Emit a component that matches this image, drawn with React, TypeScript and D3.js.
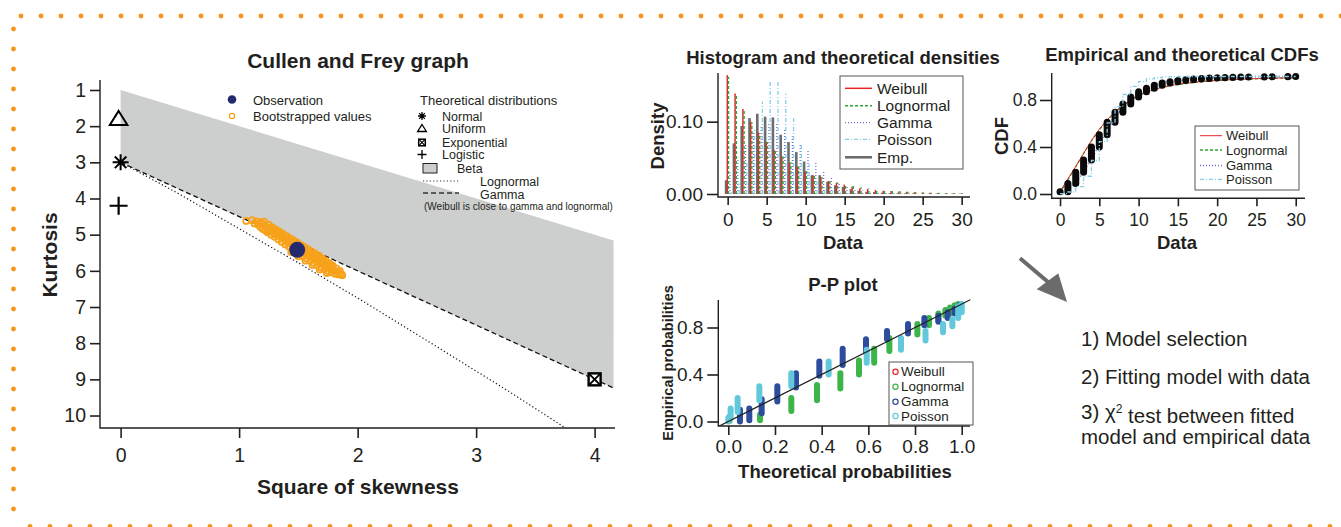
import * as d3 from "d3";
import React, { useEffect, useRef } from "react";

const W = 1341;
const H = 527;
const INK = "#231f20";
const ORANGE = "#f7941d";
const FONT = "'Liberation Sans', Arial, Helvetica, sans-serif";

// ---- Cullen and Frey graph ----
const skewTicks = [0, 1, 2, 3, 4];
const kurtTicks = [1, 2, 3, 4, 5, 6, 7, 8, 9, 10];
const betaTop = [[0, 1], [4.16, 5.16]];
const gammaLine = [[0, 3], [4.16, 9.24]];
const lognormalLine = [[0, 3], [0.47, 3.83], [0.96, 4.76], [1.49, 5.76], [2.05, 6.85], [2.64, 8.04], [3.27, 9.32], [3.79, 10.42]];
const uniformPt = [0, 1.8];
const normalPt = [0, 3];
const logisticPt = [0, 4.2];
const exponentialPt = [4, 9];
const observation = [1.49, 5.42];
const bootstrap = [
  [1.06, 4.62], [1.11, 4.6], [1.13, 4.69], [1.15, 4.63], [1.16, 4.72], [1.18, 4.66], [1.18, 4.79], [1.2, 4.71],
  [1.2, 4.84], [1.22, 4.76], [1.22, 4.88], [1.24, 4.8], [1.24, 4.93], [1.25, 4.72], [1.26, 4.87], [1.27, 5.0],
  [1.28, 4.8], [1.29, 4.93], [1.3, 5.06], [1.31, 4.86], [1.32, 5.0], [1.33, 5.13], [1.34, 4.92], [1.35, 5.06],
  [1.36, 5.2], [1.37, 4.98], [1.38, 5.12], [1.39, 5.27], [1.4, 5.04], [1.41, 5.19], [1.42, 5.33], [1.43, 5.1],
  [1.44, 5.25], [1.45, 5.4], [1.46, 5.16], [1.47, 5.31], [1.48, 5.47], [1.49, 5.22], [1.5, 5.38], [1.51, 5.55],
  [1.52, 5.28], [1.53, 5.44], [1.54, 5.6], [1.55, 5.34], [1.56, 5.5], [1.57, 5.66], [1.58, 5.4], [1.59, 5.56],
  [1.6, 5.72], [1.61, 5.46], [1.62, 5.62], [1.63, 5.78], [1.64, 5.52], [1.65, 5.68], [1.66, 5.84], [1.67, 5.58],
  [1.68, 5.74], [1.69, 5.9], [1.7, 5.65], [1.71, 5.8], [1.72, 5.95], [1.73, 5.72], [1.74, 5.86], [1.75, 6.0],
  [1.76, 5.79], [1.77, 5.92], [1.78, 6.04], [1.79, 5.86], [1.8, 5.98], [1.81, 6.08], [1.82, 5.93], [1.83, 6.03],
  [1.84, 6.1], [1.85, 6.0], [1.86, 6.08], [1.87, 6.12], [1.27, 4.9], [1.33, 5.02], [1.39, 5.15], [1.45, 5.28],
  [1.51, 5.42], [1.57, 5.53], [1.63, 5.65], [1.69, 5.77], [1.75, 5.9], [1.36, 5.1], [1.42, 5.22], [1.48, 5.35],
  [1.54, 5.47], [1.6, 5.6], [1.66, 5.71], [1.72, 5.83], [1.3, 4.96], [1.24, 4.86], [1.78, 5.95],
  [1.21, 4.64], [1.29, 4.86], [1.35, 4.98], [1.41, 5.1], [1.47, 5.2], [1.53, 5.34], [1.59, 5.46], [1.65, 5.58],
  [1.71, 5.7], [1.77, 5.84], [1.44, 5.48], [1.5, 5.6], [1.56, 5.72], [1.62, 5.84], [1.68, 5.96], [1.74, 6.06],
];

// ---- Histogram and theoretical densities ----
const counts = [0, 1, 2, 3, 4, 5, 6, 7, 8, 9, 10, 11, 12, 13, 14, 15, 16, 17, 18, 19, 20, 21, 22, 23, 24, 25, 26, 27, 28, 29, 30];
const empDensity = [0.019, 0.07, 0.094, 0.105, 0.111, 0.107, 0.106, 0.082, 0.072, 0.058, 0.045, 0.026, 0.026, 0.017, 0.012, 0.01, 0.0065, 0.0046, 0.003, 0.0028, 0.0018, 0.0012, 0.001, 0.001, 0.0008, 0, 0.0006, 0.0006, 0, 0.0005, 0.0005];
const weibullDensity = [0.1645, 0.139, 0.1175, 0.1, 0.085, 0.072, 0.061, 0.052, 0.043, 0.038, 0.031, 0.026, 0.023, 0.018, 0.0155, 0.013, 0.01, 0.008, 0.007, 0.0055, 0.0046, 0.004, 0.0035, 0.003, 0.0025, 0.002, 0.0018, 0.0015, 0.0012, 0.001, 0.0008];
const lognormalDensity = [0.162, 0.137, 0.116, 0.099, 0.084, 0.072, 0.061, 0.052, 0.044, 0.038, 0.032, 0.027, 0.023, 0.019, 0.016, 0.013, 0.011, 0.009, 0.0075, 0.0062, 0.0052, 0.0044, 0.0037, 0.0031, 0.0026, 0.0022, 0.0019, 0.0016, 0.0014, 0.0012, 0.001];
const gammaDensity = [0.03, 0.05, 0.07, 0.085, 0.095, 0.1, 0.098, 0.09, 0.08, 0.07, 0.06, 0.045, 0.031, 0.022, 0.015, 0.01, 0.007, 0.005, 0.003, 0.002, 0.0015, 0.001, 0.0008, 0.0006, 0.0004, 0.0003, 0, 0, 0, 0, 0];
const poissonDensity = [0.0025, 0.015, 0.045, 0.089, 0.128, 0.158, 0.158, 0.139, 0.105, 0.069, 0.041, 0.0225, 0.011, 0.005, 0.002, 0.001, 0.0004, 0, 0, 0, 0, 0, 0, 0, 0, 0, 0, 0, 0, 0, 0];

// ---- Empirical and theoretical CDFs ----
const cdfX = [0, 1, 2, 3, 4, 5, 6, 7, 8, 9, 10, 12, 14, 16, 18, 20, 22, 25, 28, 30];
const weibullCdf = [0.02, 0.13, 0.235, 0.345, 0.455, 0.55, 0.63, 0.7, 0.755, 0.8, 0.84, 0.89, 0.922, 0.943, 0.957, 0.967, 0.974, 0.982, 0.987, 0.99];
const lognormalCdf = [0.01, 0.12, 0.232, 0.345, 0.452, 0.545, 0.625, 0.695, 0.75, 0.797, 0.835, 0.887, 0.92, 0.94, 0.955, 0.965, 0.973, 0.981, 0.986, 0.989];
const gammaCdf = [0, 0.04, 0.1, 0.19, 0.3, 0.42, 0.54, 0.645, 0.735, 0.81, 0.86, 0.93, 0.966, 0.983, 0.992, 0.996, 0.998, 0.999, 1, 1];
const poissonCdf = [0.0025, 0.017, 0.062, 0.151, 0.285, 0.446, 0.606, 0.744, 0.847, 0.916, 0.957, 0.98, 0.991, 0.996, 0.999, 1, 1, 1, 1, 1, 1, 1, 1, 1, 1, 1, 1, 1, 1, 1, 1];
const empK = [0, 1, 2, 3, 4, 5, 6, 7, 8, 9, 10, 11, 12, 13, 14, 15, 16, 17, 18, 19, 20, 21, 22, 23, 24, 26, 27, 29, 30];
const empCdf = [0.02, 0.09, 0.185, 0.29, 0.4, 0.505, 0.61, 0.695, 0.765, 0.825, 0.87, 0.9, 0.925, 0.945, 0.955, 0.965, 0.972, 0.978, 0.983, 0.987, 0.99, 0.992, 0.994, 0.995, 0.996, 0.997, 0.998, 0.999, 1.0];

// ---- P-P plot: [theoretical p, empirical low, empirical high] ----
const ppLognormal = [[0.005, 0.005, 0.04], [0.136, 0.01, 0.06], [0.27, 0.09, 0.2], [0.38, 0.18, 0.31], [0.48, 0.28, 0.41], [0.56, 0.4, 0.52], [0.625, 0.5, 0.62], [0.69, 0.6, 0.71], [0.81, 0.74, 0.83], [0.86, 0.82, 0.88], [0.9, 0.86, 0.92], [0.93, 0.9, 0.95], [0.95, 0.92, 0.97], [0.97, 0.94, 0.99], [0.985, 0.96, 1.0]];
const ppGamma = [[0.05, 0.0, 0.1], [0.09, 0.01, 0.11], [0.143, 0.07, 0.19], [0.21, 0.17, 0.3], [0.29, 0.29, 0.41], [0.39, 0.39, 0.51], [0.49, 0.48, 0.62], [0.59, 0.59, 0.7], [0.68, 0.7, 0.77], [0.77, 0.75, 0.83], [0.84, 0.82, 0.88], [0.9, 0.85, 0.9], [0.94, 0.88, 0.93], [0.97, 0.92, 0.96], [0.99, 0.95, 0.99]];
const ppPoisson = [[0.0, 0.0, 0.03], [0.01, 0.03, 0.11], [0.04, 0.08, 0.2], [0.133, 0.18, 0.3], [0.27, 0.3, 0.41], [0.43, 0.4, 0.51], [0.593, 0.5, 0.61], [0.74, 0.61, 0.71], [0.845, 0.69, 0.77], [0.92, 0.76, 0.83], [0.96, 0.81, 0.87], [0.985, 0.88, 0.98], [1.0, 0.93, 1.0]];

const distLegend = ["Weibull", "Lognormal", "Gamma", "Poisson"];
const steps = ["1) Model selection", "2) Fitting model with data"];

const COL = {
  weibull: "#e8262a",
  lognormal: "#2fa83a",
  gamma: "#6f6fd4",
  poisson: "#86cfe8",
  emp: "#6d6d6d",
  ppGreen: "#3db54a",
  ppNavy: "#2d4c9e",
  ppCyan: "#62c8dc",
  navy: "#252a6e",
  gray: "#cdcfce",
};

function text(g, x, y, s, size, opts: any = {}) {
  return g.append("text")
    .attr("x", x).attr("y", y).attr("dy", "0.35em")
    .attr("font-size", size)
    .attr("fill", INK)
    .attr("font-weight", opts.bold ? "bold" : null)
    .attr("text-anchor", opts.anchor || "start")
    .text(s);
}

function vtext(g, x, y, s, size) {
  return g.append("text")
    .attr("transform", `translate(${x},${y}) rotate(-90)`)
    .attr("text-anchor", "middle")
    .attr("font-size", size).attr("font-weight", "bold").attr("fill", INK)
    .text(s);
}

function lbox(g, x0, x1, y0, y1) {
  g.append("path")
    .attr("d", `M${x0},${y0}V${y1}H${x1}`)
    .attr("fill", "none").attr("stroke", INK).attr("stroke-width", 1.4);
}

function styleAxis(sel, size) {
  sel.attr("font-family", FONT).attr("font-size", size);
  sel.select(".domain").remove();
  sel.selectAll("line").attr("stroke", INK).attr("stroke-width", 1.6);
  sel.selectAll("text").attr("fill", INK);
}

function asterisk(g, x, y, r, sw) {
  const d = r * 0.72;
  g.append("path")
    .attr("d", `M${x - r},${y}H${x + r}M${x},${y - r}V${y + r}M${x - d},${y - d}L${x + d},${y + d}M${x - d},${y + d}L${x + d},${y - d}`)
    .attr("stroke", "#000").attr("stroke-width", sw);
}
function triangle(g, x, y, r, sw) {
  g.append("path")
    .attr("d", `M${x},${y - r}L${x + r * 1.1},${y + r * 0.75}L${x - r * 1.1},${y + r * 0.75}Z`)
    .attr("fill", "none").attr("stroke", "#000").attr("stroke-width", sw);
}
function plus(g, x, y, r, sw) {
  g.append("path").attr("d", `M${x - r},${y}H${x + r}M${x},${y - r}V${y + r}`)
    .attr("stroke", "#000").attr("stroke-width", sw);
}
function boxX(g, x, y, r, sw) {
  g.append("rect").attr("x", x - r).attr("y", y - r).attr("width", 2 * r).attr("height", 2 * r)
    .attr("fill", "#fff").attr("stroke", "#000").attr("stroke-width", sw);
  g.append("path").attr("d", `M${x - r},${y - r}L${x + r},${y + r}M${x - r},${y + r}L${x + r},${y - r}`)
    .attr("stroke", "#000").attr("stroke-width", sw * 0.8);
}

export default function App() {
  const svgRef = useRef<SVGSVGElement>(null);

  useEffect(() => {
    const svg = d3.select(svgRef.current);
    svg.selectAll("*").remove();
    svg.attr("width", W).attr("height", H).style("font-family", FONT);
    svg.append("rect").attr("width", W).attr("height", H).attr("fill", "#fff");
    const defs = svg.append("defs");

    // dotted frame
    const frame = svg.append("g").attr("fill", ORANGE);
    d3.range(21, W + 4, 20).forEach(x => frame.append("circle").attr("cx", x).attr("cy", 16).attr("r", 2.4));
    d3.range(29, 520, 20).forEach(y => frame.append("circle").attr("cx", 13.5).attr("cy", y).attr("r", 2.4));
    d3.range(30, W + 4, 20).forEach(x => frame.append("circle").attr("cx", x).attr("cy", 526.5).attr("r", 2.4));

    // ===== Cullen and Frey =====
    const cf = svg.append("g");
    const sx = d3.scaleLinear().domain([-0.174, 4.172]).range([100, 615]);
    const ky = d3.scaleLinear().domain([0.724, 10.345]).range([80, 428]);
    defs.append("clipPath").attr("id", "cfclip").append("rect").attr("x", 100).attr("y", 80).attr("width", 515).attr("height", 348);
    const cfp = cf.append("g").attr("clip-path", "url(#cfclip)");
    const line = d3.line().x(d => sx(d[0])).y(d => ky(d[1]));
    cfp.append("path").attr("d", line(betaTop.concat(gammaLine.slice().reverse())) + "Z").attr("fill", COL.gray);
    cfp.append("path").attr("d", line(gammaLine)).attr("fill", "none").attr("stroke", "#111").attr("stroke-width", 1.3).attr("stroke-dasharray", "5,3");
    cfp.append("path").attr("d", line(lognormalLine)).attr("fill", "none").attr("stroke", "#111").attr("stroke-width", 1.2).attr("stroke-dasharray", "1.2,2.4");
    bootstrap.forEach(p => cfp.append("circle").attr("cx", sx(p[0])).attr("cy", ky(p[1])).attr("r", 3)
      .attr("fill", "none").attr("stroke", "#f7a21b").attr("stroke-width", 1.8));
    cfp.append("circle").attr("cx", sx(observation[0])).attr("cy", ky(observation[1])).attr("r", 8).attr("fill", COL.navy);
    triangle(cf, sx(uniformPt[0]) - 2, ky(uniformPt[1]), 8, 2);
    asterisk(cf, sx(normalPt[0]), ky(normalPt[1]), 8, 2);
    plus(cf, sx(logisticPt[0]) - 2, ky(logisticPt[1]), 9, 2.2);
    boxX(cf, sx(exponentialPt[0]), ky(exponentialPt[1]), 6, 2.4);

    lbox(cf, 100, 615, 80, 428);
    styleAxis(cf.append("g").attr("transform", "translate(100,0)")
      .call(d3.axisLeft(ky).tickValues(kurtTicks).tickSize(10).tickPadding(4).tickFormat(d3.format("d"))), 19.5);
    styleAxis(cf.append("g").attr("transform", "translate(0,428)")
      .call(d3.axisBottom(sx).tickValues(skewTicks).tickSize(10).tickPadding(10).tickFormat(d3.format("d"))), 19.5);
    text(cf, 358, 61, "Cullen and Frey graph", 21, { bold: true, anchor: "middle" });
    text(cf, 358, 487, "Square of skewness", 21, { bold: true, anchor: "middle" });
    vtext(cf, 57, 255, "Kurtosis", 21);

    // legend
    cf.append("circle").attr("cx", 232).attr("cy", 99.5).attr("r", 4.3).attr("fill", COL.navy);
    cf.append("circle").attr("cx", 232).attr("cy", 116).attr("r", 2.6).attr("fill", "none").attr("stroke", "#f7a21b").attr("stroke-width", 1.3);
    text(cf, 253, 100, "Observation", 13);
    text(cf, 253, 116.5, "Bootstrapped values", 13);
    text(cf, 420, 100, "Theoretical distributions", 13);
    asterisk(cf, 422, 116, 4, 1.3);
    triangle(cf, 422, 128.5, 4, 1.3);
    boxX(cf, 422, 142.5, 3.3, 1.5);
    plus(cf, 422, 154.5, 4.5, 1.3);
    cf.append("rect").attr("x", 423).attr("y", 163.5).attr("width", 14).attr("height", 9.5).attr("fill", COL.gray).attr("stroke", "#222").attr("stroke-width", 1);
    cf.append("path").attr("d", "M423,181H459").attr("stroke", "#333").attr("stroke-width", 1).attr("stroke-dasharray", "1.2,2.2");
    cf.append("path").attr("d", "M423,193H459").attr("stroke", "#333").attr("stroke-width", 1.3).attr("stroke-dasharray", "5,3");
    text(cf, 442, 116.5, "Normal", 12.5);
    text(cf, 442, 129, "Uniform", 12.5);
    text(cf, 442, 142.5, "Exponential", 12.5);
    text(cf, 442, 154.5, "Logistic", 12.5);
    text(cf, 457, 169, "Beta", 12.5);
    text(cf, 480, 182, "Lognormal", 12.5);
    text(cf, 480, 195, "Gamma", 12.5);
    text(cf, 424, 206, "(Weibull is close to gamma and lognormal)", 10);

    // ===== Histogram and theoretical densities =====
    const hg = svg.append("g");
    const hx = d3.scaleLinear().domain([-1.24, 31.07]).range([718, 970]);
    const hy = d3.scaleLinear().domain([0, 0.1]).range([194, 121.7]);
    const series = [
      { vals: empDensity, off: -0.2, color: COL.emp, w: 2.6, dash: null },
      { vals: weibullDensity, off: -0.05, color: COL.weibull, w: 1.5, dash: null },
      { vals: lognormalDensity, off: 0.1, color: COL.lognormal, w: 1.5, dash: "3,2" },
      { vals: gammaDensity, off: 0.3, color: COL.gamma, w: 1.3, dash: "1,2" },
      { vals: poissonDensity, off: 0.45, color: COL.poisson, w: 1.3, dash: "4,2,1,2" },
    ];
    series.forEach(s => {
      counts.forEach((k, i) => {
        if (s.vals[i] <= 0.0002) return;
        hg.append("line")
          .attr("x1", hx(k + s.off)).attr("x2", hx(k + s.off))
          .attr("y1", hy(0)).attr("y2", hy(s.vals[i]))
          .attr("stroke", s.color).attr("stroke-width", s.w)
          .attr("stroke-dasharray", s.dash);
      });
    });
    lbox(hg, 718, 970, 73, 197);
    styleAxis(hg.append("g").attr("transform", "translate(718,0)")
      .call(d3.axisLeft(hy).tickValues([0, 0.1]).tickSize(11).tickPadding(4).tickFormat(d3.format(".2f"))), 19);
    styleAxis(hg.append("g").attr("transform", "translate(0,197)")
      .call(d3.axisBottom(hx).tickValues([0, 5, 10, 15, 20, 25, 30]).tickSize(8).tickPadding(8)), 19);
    text(hg, 843, 58, "Histogram and theoretical densities", 18.5, { bold: true, anchor: "middle" });
    text(hg, 843, 243, "Data", 18.5, { bold: true, anchor: "middle" });
    vtext(hg, 664, 136, "Density", 18.5);

    const hl = hg.append("g");
    hl.append("rect").attr("x", 840).attr("y", 76).attr("width", 123).attr("height", 93).attr("fill", "#fff").attr("stroke", "#555").attr("stroke-width", 1);
    const hLeg = [
      { name: "Weibull", ...series[1] },
      { name: "Lognormal", ...series[2] },
      { name: "Gamma", ...series[3] },
      { name: "Poisson", ...series[4] },
      { name: "Emp.", ...series[0] },
    ];
    const hRows = [88.3, 105.7, 122.7, 139.3, 157.3];
    hLeg.forEach((e, i) => {
      hl.append("line").attr("x1", 845).attr("x2", 872).attr("y1", hRows[i]).attr("y2", hRows[i])
        .attr("stroke", e.color).attr("stroke-width", e.w).attr("stroke-dasharray", e.dash);
      text(hl, 877, hRows[i], e.name, 15.5);
    });

    // ===== Empirical and theoretical CDFs =====
    const cg = svg.append("g");
    const fx = d3.scaleLinear().domain([-1.06, 31.18]).range([1051.7, 1305]);
    const fy = d3.scaleLinear().domain([0, 0.8]).range([194, 100]);
    const cdfLine = d3.line().x(d => fx(d[0])).y(d => fy(d[1])).curve(d3.curveMonotoneX);
    const cdfCurves = [
      { vals: gammaCdf, color: COL.gamma, w: 1.6, dash: "1,2" },
      { vals: lognormalCdf, color: COL.lognormal, w: 1.3, dash: "3,2" },
      { vals: weibullCdf, color: COL.weibull, w: 1, dash: null },
    ];
    cdfCurves.forEach(c => {
      cg.append("path").attr("d", cdfLine(cdfX.map((x, i) => [x, c.vals[i]])))
        .attr("fill", "none").attr("stroke", c.color).attr("stroke-width", c.w).attr("stroke-dasharray", c.dash);
    });
    empK.forEach((k, i) => {
      const lo = i === 0 ? empCdf[0] : empCdf[i - 1];
      cg.append("line").attr("x1", fx(k)).attr("x2", fx(k)).attr("y1", fy(lo)).attr("y2", fy(empCdf[i]))
        .attr("stroke", "#0a0a0a").attr("stroke-width", 7).attr("stroke-linecap", "round");
    });
    const stepLine = d3.line().x(d => fx(d[0])).y(d => fy(d[1])).curve(d3.curveStepAfter);
    cg.append("path").attr("d", stepLine(counts.map((k, i) => [k, poissonCdf[i]])))
      .attr("fill", "none").attr("stroke", COL.poisson).attr("stroke-width", 1.3).attr("stroke-dasharray", "4,2,1,2");
    lbox(cg, 1051.7, 1305, 73, 198.3);
    styleAxis(cg.append("g").attr("transform", "translate(1051.7,0)")
      .call(d3.axisLeft(fy).tickValues([0, 0.4, 0.8]).tickSize(11.7).tickPadding(3).tickFormat(d3.format(".1f"))), 17.5);
    styleAxis(cg.append("g").attr("transform", "translate(0,198.3)")
      .call(d3.axisBottom(fx).tickValues([0, 5, 10, 15, 20, 25, 30]).tickSize(8).tickPadding(7)), 17.5);
    text(cg, 1182, 55, "Empirical and theoretical CDFs", 18.5, { bold: true, anchor: "middle" });
    text(cg, 1177, 243, "Data", 18.5, { bold: true, anchor: "middle" });
    vtext(cg, 1008, 136, "CDF", 18.5);

    const cl = cg.append("g");
    cl.append("rect").attr("x", 1195).attr("y", 126).attr("width", 104).attr("height", 64).attr("fill", "#fff").attr("stroke", "#555").attr("stroke-width", 1);
    const cLeg = [
      { color: COL.weibull, w: 1, dash: null },
      { color: COL.lognormal, w: 1.3, dash: "3,2" },
      { color: COL.gamma, w: 1.6, dash: "1,2" },
      { color: COL.poisson, w: 1.3, dash: "4,2,1,2" },
    ];
    const cRows = [135.7, 150, 165.5, 179.3];
    distLegend.forEach((name, i) => {
      cl.append("line").attr("x1", 1200).attr("x2", 1222).attr("y1", cRows[i]).attr("y2", cRows[i])
        .attr("stroke", cLeg[i].color).attr("stroke-width", cLeg[i].w).attr("stroke-dasharray", cLeg[i].dash);
      text(cl, 1226, cRows[i], name, 13);
    });

    // ===== P-P plot =====
    const pg = svg.append("g");
    const px = d3.scaleLinear().domain([0, 1]).range([728.3, 961.7]);
    const py = d3.scaleLinear().domain([0, 0.8]).range([421.5, 327.5]);
    defs.append("clipPath").attr("id", "ppclip").append("rect").attr("x", 718.3).attr("y", 298).attr("width", 252).attr("height", 128);
    const ppp = pg.append("g").attr("clip-path", "url(#ppclip)");
    const ppSets = [
      { cols: ppLognormal, color: COL.ppGreen },
      { cols: ppGamma, color: COL.ppNavy },
      { cols: ppPoisson, color: COL.ppCyan },
    ];
    ppSets.forEach(s => {
      s.cols.forEach(c => {
        ppp.append("line").attr("x1", px(c[0])).attr("x2", px(c[0])).attr("y1", py(c[1])).attr("y2", py(c[2]))
          .attr("stroke", s.color).attr("stroke-width", 6).attr("stroke-linecap", "round");
      });
    });
    ppp.append("line").attr("x1", px(-0.1)).attr("y1", py(-0.1)).attr("x2", px(1.1)).attr("y2", py(1.1))
      .attr("stroke", "#222").attr("stroke-width", 1.2);
    lbox(pg, 718.3, 970, 300, 426);
    styleAxis(pg.append("g").attr("transform", "translate(718.3,0)")
      .call(d3.axisLeft(py).tickValues([0, 0.4, 0.8]).tickSize(11).tickPadding(4).tickFormat(d3.format(".1f"))), 19);
    styleAxis(pg.append("g").attr("transform", "translate(0,426)")
      .call(d3.axisBottom(px).tickValues([0, 0.2, 0.4, 0.6, 0.8, 1]).tickSize(9).tickPadding(5).tickFormat(d3.format(".1f"))), 19);
    text(pg, 843, 285, "P-P plot", 18.5, { bold: true, anchor: "middle" });
    text(pg, 845, 472, "Theoretical probabilities", 18.5, { bold: true, anchor: "middle" });
    vtext(pg, 673, 363, "Empirical probabilities", 14.5);

    const pl = pg.append("g");
    pl.append("rect").attr("x", 889).attr("y", 362).attr("width", 84).attr("height", 63).attr("fill", "#fff").attr("stroke", "#555").attr("stroke-width", 1);
    const pColors = [COL.weibull, COL.ppGreen, COL.ppNavy, COL.ppCyan];
    const pRows = [371.7, 386.7, 401.7, 416];
    distLegend.forEach((name, i) => {
      pl.append("circle").attr("cx", 895.5).attr("cy", pRows[i]).attr("r", 2.6).attr("fill", "none").attr("stroke", pColors[i]).attr("stroke-width", 1.2);
      text(pl, 901, pRows[i], name, 13.4);
    });

    // ===== arrow and steps =====
    const ar = svg.append("g").attr("fill", "#6b6b6b");
    ar.append("line").attr("x1", 1020).attr("y1", 258.3).attr("x2", 1048).attr("y2", 282).attr("stroke", "#6b6b6b").attr("stroke-width", 4);
    ar.append("path").attr("d", "M1067,302L1036.7,289.3L1058.3,273.3Z");

    const tg = svg.append("g");
    text(tg, 1081, 339.3, steps[0], 20.5);
    text(tg, 1081, 376.7, steps[1], 20.5);
    const t3 = tg.append("text").attr("x", 1081).attr("y", 411.7).attr("dy", "0.35em").attr("font-size", 20.5).attr("fill", INK);
    t3.append("tspan").text("3) χ");
    t3.append("tspan").attr("dy", "-0.45em").attr("font-size", 12).text("2");
    t3.append("tspan").attr("dy", "0.45em").text(" test between fitted");
    text(tg, 1081, 436.7, "model and empirical data", 20.5);
  }, []);

  return <svg ref={svgRef} style={{ position: "absolute", left: 0, top: 0, display: "block" }} />;
}
